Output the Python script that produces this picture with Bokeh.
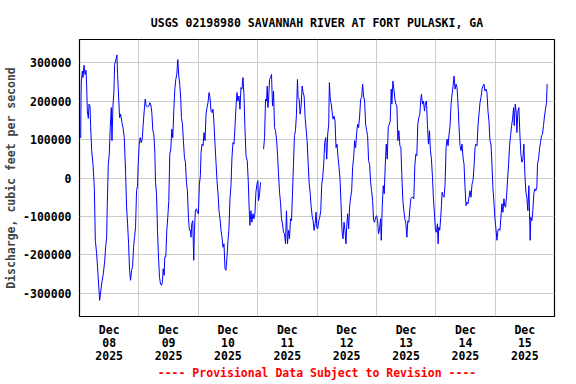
import math
from bokeh.plotting import figure
from bokeh.models import Range1d, FixedTicker, ColumnDataSource
from bokeh.embed import file_html
from bokeh.resources import INLINE

TITLE = "USGS 02198980 SAVANNAH RIVER AT FORT PULASKI, GA"
Y_LABEL = "Discharge, cubic feet per second"
NOTE = "---- Provisional Data Subject to Revision ----"

# x axis: hours since 2025-12-08 00:00
day_labels = ["Dec\n08\n2025", "Dec\n09\n2025", "Dec\n10\n2025", "Dec\n11\n2025",
              "Dec\n12\n2025", "Dec\n13\n2025", "Dec\n14\n2025", "Dec\n15\n2025"]
y_ticks = [-300000, -200000, -100000, 0, 100000, 200000, 300000]
y_tick_labels = ["-300000", "-200000", "-100000", "0", "100000", "200000", "300000"]

NaN = float("nan")

hours = [
    0.48, 0.62, 0.75, 1.16, 1.42, 1.83, 2.23, 2.63, 2.90, 3.17, 3.57, 3.84, 4.25, 4.52, 4.92,
    5.46, 5.99, 6.40, 6.93, 7.47, 7.88, 8.14, 8.55, 9.08, 9.62, 10.16, 10.56, 10.97, 11.24,
    11.64, 12.04, 12.44, 12.85, 13.12, 13.52, 13.92, 14.19, 14.60, 15.13, 15.40, 15.80, 16.21,
    16.61, 17.15, 17.69, 18.09, 18.63, 19.03, 19.43, 19.84, 20.24, 20.64, 21.05, 21.45, 21.85,
    22.25, 22.66, 23.06, 23.46, 23.73, 24.14, 24.54, 24.94, 25.35, 25.75, 26.15, 26.56, 26.96,
    27.50, 28.03, 28.44, 28.84, 29.24, 29.65, 30.05, 30.45, 30.72, 31.13, 31.53, 31.93, 32.33,
    32.74,
    33.14, 33.54, 33.81, 34.22, 34.48, 34.89, 35.29, 35.69, 36.10, 36.50, 36.90, 37.31, 37.71,
    38.11, 38.52, 38.92, 39.32, 39.73, 40.13, 40.53, 40.93, 41.20, 41.61, 42.01, 42.41, 42.82,
    43.22, 43.62, 44.03, 44.43, 44.83, 45.10, 45.37, 45.77, 46.18, 46.44, 46.85, 47.25, 47.65,
    48.06, 48.46, 48.86, 49.13, 49.54, 49.94, 50.34, 50.75, 51.15, 51.55, 51.95, 52.36, 52.76,
    53.16, 53.57, 53.97, 54.37, 54.78, 55.18, 55.58, 55.99, 56.39, 56.79, 57.20, 57.60, 58.00,
    58.41, 58.81, 59.21, 59.62, 60.02, 60.42, 60.82, 61.23, 61.63, 62.03, 62.44, 62.84, 63.24,
    63.65, 64.05, 64.45, 64.86, 65.26, 65.66, 66.07, 66.47, 66.87, 67.28,
    67.41, 67.81, 68.21, 68.62, 68.89, 69.29, 69.69, 70.10, 70.50, 70.90, 71.31, 71.71, 72.11,
    72.38, 72.78, 73.19, 73.80,
    74.40, 74.80, 75.20, 75.61, 75.88, 76.14, 76.41, 76.81, 77.22, 77.62, 78.02, 78.43, 78.83,
    79.23, 79.64, 80.04, 80.44, 80.85, 81.25, 81.65, 82.06, 82.46, 82.86, 83.27, 83.67, 84.07,
    84.48, 84.88, 85.28, 85.69, 86.09, 86.49, 86.89, 87.30, 87.70, 88.10, 88.37, 88.78, 89.18,
    89.58, 89.99, 90.39, 90.79, 91.20, 91.60, 92.00, 92.41, 92.81, 93.21, 93.61, 94.02, 94.42,
    94.82, 95.23, 95.63, 95.90, 96.30, 96.71, 97.11, 97.51, 97.92, 98.32, 98.72, 99.12, 99.53,
    99.93, 100.33, 100.74, 101.00, 101.41,
    101.68, 102.08, 102.48, 102.89, 103.29, 103.69, 104.10, 104.50, 104.90, 105.31, 105.71,
    106.11, 106.52, 106.92, 107.32, 107.72, 107.99, 108.40, 108.80, 109.20, 109.61, 110.01,
    110.41, 110.82, 111.22, 111.62, 112.03, 112.43, 112.83, 113.23, 113.64, 114.04, 114.44,
    114.85, 115.25, 115.65, 116.06, 116.46, 116.86, 117.27, 117.67, 118.07, 118.48, 118.88,
    119.28, 119.69, 120.09, 120.49, 120.89, 121.30, 121.70, 121.97, 122.37, 122.78, 123.18,
    123.58, 123.99, 124.39, 124.79, 125.20, 125.60, 126.00, 126.27, 126.67, 127.08, 127.48,
    127.88, 128.29, 128.69, 129.09, 129.50, 129.90, 130.30, 130.71, 131.11, 131.51, 131.92,
    132.32, 132.72, 133.12, 133.53, 133.93, 134.33, 134.74, 135.14, 135.54, 135.95, 136.35,
    136.75, 137.16, 137.56, 137.96, 138.23, 138.63, 139.04, 139.44, 139.84, 140.25, 140.65,
    141.05, 141.46, 141.86, 142.26, 142.67, 143.07, 143.47, 143.87, 144.28, 144.68, 144.95,
    145.22, 145.62, 146.02, 146.29, 146.56, 146.97, 147.37, 147.77, 148.18, 148.58, 148.98,
    149.38, 149.79, 150.19, 150.59, 151.00, 151.40, 151.80, 152.21, 152.61, 153.01, 153.42,
    153.82, 154.22, 154.63, 155.03, 155.43, 155.83, 156.24, 156.64, 157.05, 157.45, 157.85,
    158.25, 158.66, 159.06, 159.46, 159.87, 160.27, 160.67, 161.08, 161.48, 161.88, 162.29,
    162.69, 163.09, 163.50, 163.90, 164.30, 164.71, 165.11, 165.51, 165.91, 166.32, 166.72,
    167.12, 167.53, 167.93, 168.33, 168.74, 169.14, 169.54, 169.95, 170.35, 170.75, 171.16,
    171.56,
    171.83, 172.23, 172.63, 173.04, 173.44, 173.84, 174.25, 174.65, 175.05, 175.46, 175.72,
    176.13, 176.53, 176.80, 177.20, 177.61, 178.01, 178.41, 178.81, 179.22, 179.62, 180.02,
    180.43, 180.83, 181.23, 181.64, 181.91, 182.17, 182.44, 182.85, 183.25, 183.65, 184.06,
    184.46, 184.86, 185.13, 185.54, 185.94, 186.34, 186.75, 187.15, 187.55, 187.96, 188.36,
    188.77, 189.03,
]

discharge_cfs = [
    104000, 209000, 252000, 278000, 261000, 293000, 269000, 280000, 239000, 174000, 155000,
    192000, 187000, 131000, 71000, 36000, -24000, -162000, -197000, -249000, -292000, -318000,
    -296000, -270000, -249000, -218000, -180000, -154000, -67000, 36000, 62000, 131000, 183000,
    97000, 187000, 226000, 295000, 304000, 320000, 269000, 213000, 157000, 166000, 144000,
    127000, 105000, 15000, -76000, -119000, -171000, -240000, -266000, -240000, -231000,
    -180000, -154000, -128000, -33000, -20000, 36000, 88000, 105000, 92000, 101000, 140000,
    174000, 205000, 187000, 185000, 187000, 196000, 190000, 170000, 123000, 114000, 66000,
    -11000, -41000, -136000, -205000, -257000, -275000,
    -279000, -270000, -236000, -253000, -205000, -205000, -136000, -102000, -59000, 62000,
    75000, 127000, 105000, 174000, 231000, 256000, 269000, 308000, 265000, 243000, 205000,
    157000, 140000, 97000, 54000, 41000, -11000, -33000, -102000, -136000, -136000, -154000,
    -119000, -111000, -214000, -136000, -85000, -80000, -89000, -93000, -16000, 6000, 66000,
    88000, 84000, 118000, 97000, 166000, 183000, 196000, 222000, 209000, 174000, 170000,
    179000, 140000, 88000, 41000, -7000, -41000, -85000, -106000, -136000, -154000, -180000,
    -171000, -236000, -240000, -205000, -162000, -132000, -54000, -20000, 54000, 92000, 88000,
    131000, 183000, 222000, 200000, 213000, 179000, 235000, 231000, 261000, 218000, 131000,
    62000,
    54000, 45000, -7000, -85000, -123000, -85000, -115000, -93000, -106000, -93000, -37000,
    -16000, -7000, -59000, -41000, -11000, NaN,
    75000, 105000, 205000, 200000, 239000, 183000, 200000, 256000, 261000, 269000, 187000,
    226000, 131000, 123000, 101000, 62000, 10000, -37000, -63000, -106000, -119000, -141000,
    -145000, -171000, -85000, -171000, -136000, -158000, -106000, -111000, -41000, 36000,
    110000, 123000, 166000, 256000, 209000, 205000, 166000, 187000, 239000, 222000, 213000,
    157000, 127000, 97000, 41000, -11000, -37000, -72000, -98000, -111000, -136000, -119000,
    -89000, -128000, -132000, -111000, -102000, -85000, -16000, 2000, 36000, 92000, 105000,
    49000, 114000, 140000, 248000, 200000,
    196000, 174000, 153000, 161000, 148000, 79000, 88000, 54000, 28000, -3000, -67000,
    -136000, -158000, -115000, -136000, -171000, -128000, -93000, -132000, -72000, -50000,
    -33000, 28000, 54000, 97000, 79000, 118000, 140000, 131000, 161000, 205000, 209000,
    244000, 213000, 200000, 140000, 123000, 110000, 45000, 36000, -11000, -33000, -59000,
    -111000, -115000, -102000, -98000, -111000, -145000, -132000, -106000, -162000, -76000,
    -20000, -41000, 32000, 88000, 49000, 131000, 140000, 148000, 231000, 192000, 252000,
    231000, 205000, 192000, 187000, 97000, 123000, 84000, 79000, 6000, -59000, -85000,
    -106000, -119000, -154000, -111000, -115000, -80000, -54000, -50000, -50000, -54000,
    32000, 62000, 58000,
    140000, 157000, 166000, 205000, 218000, 192000, 200000, 174000, 196000, 200000, 136000,
    88000, 123000, 71000, 49000, 2000, -54000, -93000, -136000, -141000, -119000, -171000,
    -128000, -136000, -102000, -72000, -37000, -46000, -50000, -16000, 79000, 101000, 84000,
    114000, 136000, 192000, 218000, 239000, 265000, 231000, 244000, 235000, 192000, 131000,
    84000, 71000, 88000, 54000, 36000, -24000, -72000, -63000, -67000, -50000, -33000,
    -50000, -16000, -7000, 28000, 79000, 88000, 84000, 136000, 166000, 196000, 209000,
    231000, 239000, 244000, 226000, 231000, 222000, 174000, 148000, 97000, 88000, 36000,
    -28000, -63000, -106000, -132000, -162000, -136000, -132000, -136000, -102000, -67000,
    -89000, -54000,
    -72000, -76000, -46000, -3000, 36000, 84000, 110000, 136000, 153000, 183000, 136000,
    192000, 170000, 118000, 174000, 183000, 114000, 62000, 41000, 49000, 88000, 10000,
    -37000, -50000, -85000, -20000, -89000, -162000, -102000, -111000, -85000, -41000,
    -28000, -33000, -24000, 36000, 49000, 75000, 92000, 110000, 114000, 136000, 161000,
    179000, 196000, 244000,
]

FONT = "DejaVu Sans Mono"
FS = "11.5px"

p = figure(width=576, height=384, output_backend="svg", toolbar_location=None,
           x_range=Range1d(0, 192), y_range=Range1d(-360000, 360000),
           min_border_left=79, min_border_right=22, min_border_top=39, min_border_bottom=68,
           background_fill_color="white", border_fill_color="white")

src = ColumnDataSource(data=dict(t=hours, q=discharge_cfs))
p.line("t", "q", source=src, line_color="#0000ff", line_width=1)

p.title.text = TITLE
p.title.align = "center"
p.title.text_font = FONT
p.title.text_font_size = FS
p.title.text_font_style = "bold"
p.title.text_color = "black"
p.title.standoff = 20

p.outline_line_color = "black"
p.outline_line_width = 1.2

# grids: day boundaries and y ticks
p.xgrid.ticker = FixedTicker(ticks=[24 * i for i in range(1, len(day_labels))])
p.ygrid.ticker = FixedTicker(ticks=y_ticks)
for g in (p.xgrid[0], p.ygrid[0]):
    g.grid_line_color = "#cccccc"
    g.grid_line_width = 1

xa = p.xaxis[0]
xa.ticker = FixedTicker(ticks=[24 * i + 12 for i in range(len(day_labels))])
xa.major_label_overrides = {24 * i + 12: lab for i, lab in enumerate(day_labels)}
xa.axis_label = NOTE
xa.axis_label_text_color = "#ff0000"
xa.axis_label_text_font = FONT
xa.axis_label_text_font_size = FS
xa.axis_label_text_font_style = "bold"
xa.axis_label_standoff = 0

ya = p.yaxis[0]
ya.ticker = FixedTicker(ticks=y_ticks)
ya.major_label_overrides = {v: s for v, s in zip(y_ticks, y_tick_labels)}
ya.axis_label = Y_LABEL
ya.axis_label_text_font = FONT
ya.axis_label_text_font_size = FS
ya.axis_label_text_font_style = "bold"
ya.axis_label_standoff = 2

for ax in (xa, ya):
    ax.axis_line_color = None
    ax.major_tick_line_color = None
    ax.minor_tick_line_color = None
    ax.major_tick_in = 0
    ax.major_tick_out = 0
    ax.minor_tick_out = 0
    ax.minor_tick_in = 0
    ax.major_label_text_font = FONT
    ax.major_label_text_font_size = FS
    ax.major_label_text_font_style = "bold"
    ax.major_label_text_color = "black"
    ax.axis_label_text_font_style = "bold"

xa.major_label_standoff = 6
xa.major_label_text_line_height = 0.95
ya.major_label_standoff = 8

open("out.html", "w").write(file_html(p, INLINE))
